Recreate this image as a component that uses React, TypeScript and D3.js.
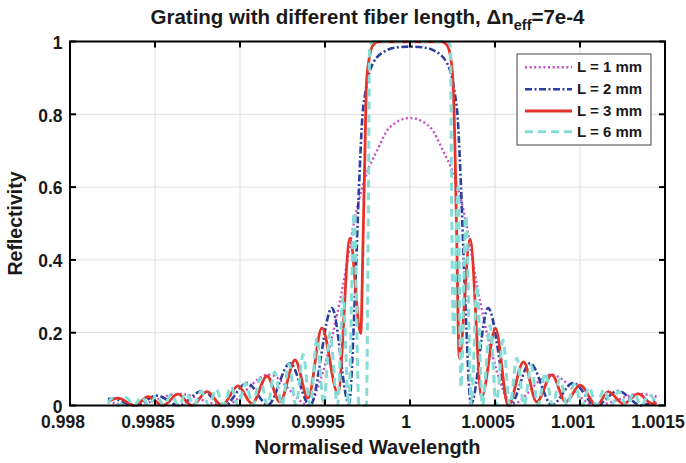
import React from 'react';
import * as d3 from 'd3';

const W = 686;
const H = 463;
const PLOT = { left: 70, right: 665, top: 41.5, bottom: 405.5 };

const xTicks = [0.998, 0.9985, 0.999, 0.9995, 1, 1.0005, 1.001, 1.0015];
const xTickLabels = ['0.998', '0.9985', '0.999', '0.9995', '1', '1.0005', '1.001', '1.0015'];
const yTicks = [0, 0.2, 0.4, 0.6, 0.8, 1];
const yTickLabels = ['0', '0.2', '0.4', '0.6', '0.8', '1'];

const seriesNames = ['L = 1 mm', 'L = 2 mm', 'L = 3 mm', 'L = 6 mm'];
const seriesColors = ['#c64cc6', '#2b3f9e', '#e5332a', '#86dcd6'];
const seriesDash = ['2,2.6', '7,2.5,2,2.5', '', '8,5'];
const seriesWidth = [2.4, 2.6, 2.8, 3];

// L = 1 mm
const wl1 = [0.998224, 0.998376, 0.998641, 0.998906, 0.999171, 0.999412, 0.999453, 0.999518, 0.999606, 0.999682, 0.999747, 0.999806, 0.999882, 1.0, 1.000118, 1.000194, 1.000253, 1.000318, 1.000394, 1.000482, 1.000547, 1.000588, 1.000829, 1.001094, 1.001353, 1.001451];
const r1 = [0.010, 0.000, 0.032, 0.000, 0.085, 0.000, 0.043, 0.143, 0.33, 0.53, 0.64, 0.70, 0.765, 0.790, 0.765, 0.70, 0.64, 0.53, 0.33, 0.143, 0.043, 0.000, 0.085, 0.000, 0.032, 0.024];

// L = 2 mm
const wl2 = [0.998224, 0.998247, 0.998382, 0.998512, 0.998641, 0.998776, 0.998906, 0.999041, 0.999165, 0.999294, 0.999412, 0.999541, 0.999641, 0.999676, 0.9997, 0.999718, 0.999741, 0.999782, 0.999859, 0.999929, 1.0, 1.000071, 1.000141, 1.000218, 1.000259, 1.000282, 1.0003, 1.000324, 1.000359, 1.000459, 1.000588, 1.000706, 1.000835, 1.000959, 1.001094, 1.001224, 1.001359, 1.001451];
const r2 = [0.018, 0.019, 0.000, 0.027, 0.000, 0.040, 0.000, 0.062, 0.002, 0.116, 0.000, 0.268, 0.004, 0.30, 0.60, 0.78, 0.87, 0.94, 0.975, 0.984, 0.986, 0.984, 0.975, 0.94, 0.87, 0.78, 0.60, 0.30, 0.004, 0.268, 0.000, 0.116, 0.002, 0.062, 0.000, 0.040, 0.000, 0.018];

// L = 3 mm
const wl3 = [0.998224, 0.998282, 0.998382, 0.998459, 0.998547, 0.998635, 0.998718, 0.998806, 0.998894, 0.998988, 0.999071, 0.999159, 0.999235, 0.999324, 0.9994, 0.999482, 0.999576, 0.999647, 0.99971, 0.999725, 0.999735, 0.999744, 0.999759, 0.999782, 0.999812, 1.000188, 1.000218, 1.000241, 1.000253, 1.000265, 1.000274, 1.00029, 1.000353, 1.000422, 1.000503, 1.000578, 1.000668, 1.000745, 1.000834, 1.000916, 1.001, 1.001098, 1.001166, 1.001255, 1.001343, 1.001424, 1.001451];
const r3 = [0.010, 0.020, 0.000, 0.024, 0.000, 0.031, 0.000, 0.038, 0.000, 0.054, 0.005, 0.081, 0.010, 0.125, 0.020, 0.213, 0.033, 0.459, 0.198, 0.480, 0.700, 0.885, 0.950, 0.990, 0.999, 0.999, 0.990, 0.950, 0.885, 0.700, 0.480, 0.130, 0.457, 0.024, 0.212, 0.000, 0.120, 0.010, 0.084, 0.010, 0.056, 0.000, 0.038, 0.005, 0.032, 0.005, 0.008];

// L = 6 mm
const wl6 = [0.998224, 0.998244, 0.998288, 0.998332, 0.998376, 0.998421, 0.998465, 0.998509, 0.998553, 0.998594, 0.998641, 0.998682, 0.998729, 0.998771, 0.998818, 0.998859, 0.998903, 0.998947, 0.998988, 0.999033, 0.999076, 0.999118, 0.999162, 0.999204, 0.999247, 0.999288, 0.999329, 0.999371, 0.999413, 0.999453, 0.999493, 0.999529, 0.999574, 0.999606, 0.999639, 0.999671, 0.9997, 0.999743, 0.999756, 0.999762, 0.999776, 0.999794, 1.000206, 1.000224, 1.000238, 1.000244, 1.000257, 1.000282, 1.0003, 1.000329, 1.000361, 1.000394, 1.000426, 1.000471, 1.000507, 1.000547, 1.000587, 1.000629, 1.000671, 1.000712, 1.000753, 1.000796, 1.000838, 1.000882, 1.000924, 1.000967, 1.001012, 1.001053, 1.001097, 1.001141, 1.001182, 1.001229, 1.001271, 1.001318, 1.001359, 1.001406, 1.001451];
const r6 = [0.005, 0.019, 0.000, 0.021, 0.000, 0.023, 0.000, 0.026, 0.000, 0.030, 0.000, 0.034, 0.000, 0.039, 0.000, 0.045, 0.000, 0.052, 0.000, 0.062, 0.000, 0.075, 0.000, 0.092, 0.000, 0.115, 0.000, 0.140, 0.000, 0.185, 0.000, 0.200, 0.000, 0.300, 0.000, 0.530, 0.000, 0.000, 0.600, 0.986, 0.999, 1.000, 1.000, 0.999, 0.986, 0.600, 0.190, 0.600, 0.050, 0.520, 0.000, 0.330, 0.000, 0.220, 0.000, 0.180, 0.000, 0.130, 0.000, 0.110, 0.000, 0.090, 0.000, 0.072, 0.000, 0.060, 0.000, 0.050, 0.000, 0.044, 0.000, 0.039, 0.000, 0.034, 0.000, 0.030, 0.002];

const seriesX = [wl1, wl2, wl3, wl6];
const seriesY = [r1, r2, r3, r6];

const FONT = 'Liberation Sans, Arial, Helvetica, sans-serif';

export default function App() {
  const x = d3.scaleLinear().domain([0.998, 1.0015]).range([PLOT.left, PLOT.right]);
  const y = d3.scaleLinear().domain([0, 1]).range([PLOT.bottom, PLOT.top]);
  const line = d3
    .line<[number, number]>()
    .x((d) => x(d[0]))
    .y((d) => y(d[1]))
    .curve(d3.curveMonotoneX);

  const paths = seriesX.map((xs, i) => line(xs.map((v, j) => [v, seriesY[i][j]] as [number, number])) || '');

  const legendX = 517;
  const legendY = 54;
  const legendRows = [67.3, 89.3, 111, 131.7];

  return (
    <svg width={W} height={H} style={{ display: 'block', position: 'absolute', left: 0, top: 0, background: '#fff' }} fontFamily={FONT}>
      <rect x={0} y={0} width={W} height={H} fill="#fff" />
      {/* grid */}
      {xTicks.map((t, i) => (
        <line key={'gx' + i} x1={x(t)} x2={x(t)} y1={PLOT.top} y2={PLOT.bottom} stroke="#dedede" strokeWidth={1} />
      ))}
      {yTicks.map((t, i) => (
        <line key={'gy' + i} x1={PLOT.left} x2={PLOT.right} y1={y(t)} y2={y(t)} stroke="#dedede" strokeWidth={1} />
      ))}
      {/* curves */}
      {paths.map((p, i) => (
        <path key={'s' + i} d={p} fill="none" stroke={seriesColors[i]} strokeWidth={seriesWidth[i]} strokeDasharray={seriesDash[i] || undefined} strokeLinejoin="round" />
      ))}
      {/* axes box */}
      <rect x={PLOT.left} y={PLOT.top} width={PLOT.right - PLOT.left} height={PLOT.bottom - PLOT.top} fill="none" stroke="#000" strokeWidth={2} />
      {xTicks.map((t, i) => (
        <g key={'tx' + i}>
          <line x1={x(t)} x2={x(t)} y1={PLOT.bottom} y2={PLOT.bottom - 6} stroke="#000" strokeWidth={2} />
          <line x1={x(t)} x2={x(t)} y1={PLOT.top} y2={PLOT.top + 6} stroke="#000" strokeWidth={2} />
          <text x={x(t) - (xTickLabels[i].length > 1 ? 7 : 4)} y={427.5} textAnchor="middle" fontSize={17.5} fontWeight="bold" fill="#1a1a1a">
            {xTickLabels[i]}
          </text>
        </g>
      ))}
      {yTicks.map((t, i) => (
        <g key={'ty' + i}>
          <line x1={PLOT.left} x2={PLOT.left + 6} y1={y(t)} y2={y(t)} stroke="#000" strokeWidth={2} />
          <line x1={PLOT.right} x2={PLOT.right - 6} y1={y(t)} y2={y(t)} stroke="#000" strokeWidth={2} />
          <text x={62.5} y={y(t) + 7.3} textAnchor="end" fontSize={17.5} fontWeight="bold" fill="#1a1a1a">
            {yTickLabels[i]}
          </text>
        </g>
      ))}
      {/* axis labels */}
      <text x={(PLOT.left + PLOT.right) / 2} y={454} textAnchor="middle" fontSize={20} fontWeight="bold" fill="#1a1a1a">
        Normalised Wavelength
      </text>
      <text transform={`translate(22,${(PLOT.top + PLOT.bottom) / 2}) rotate(-90)`} textAnchor="middle" fontSize={19.5} fontWeight="bold" fill="#1a1a1a">
        Reflectivity
      </text>
      {/* title */}
      <text x={(PLOT.left + PLOT.right) / 2} y={24} textAnchor="middle" fontSize={20.5} fontWeight="bold" fill="#1a1a1a">
        Grating with different fiber length, Δn
        <tspan fontSize={14.5} dy={5.5}>eff</tspan>
        <tspan dy={-5.5}>=7e-4</tspan>
      </text>
      {/* legend */}
      <rect x={legendX} y={legendY} width={134} height={91} fill="#fff" stroke="#444" strokeWidth={1} />
      {seriesNames.map((n, i) => (
        <g key={'lg' + i}>
          <line x1={525} x2={572} y1={legendRows[i]} y2={legendRows[i]} stroke={seriesColors[i]} strokeWidth={seriesWidth[i]} strokeDasharray={seriesDash[i] || undefined} />
          <text x={577} y={legendRows[i] + 5} fontSize={15} fontWeight="bold" fill="#1a1a1a">
            {n}
          </text>
        </g>
      ))}
    </svg>
  );
}
